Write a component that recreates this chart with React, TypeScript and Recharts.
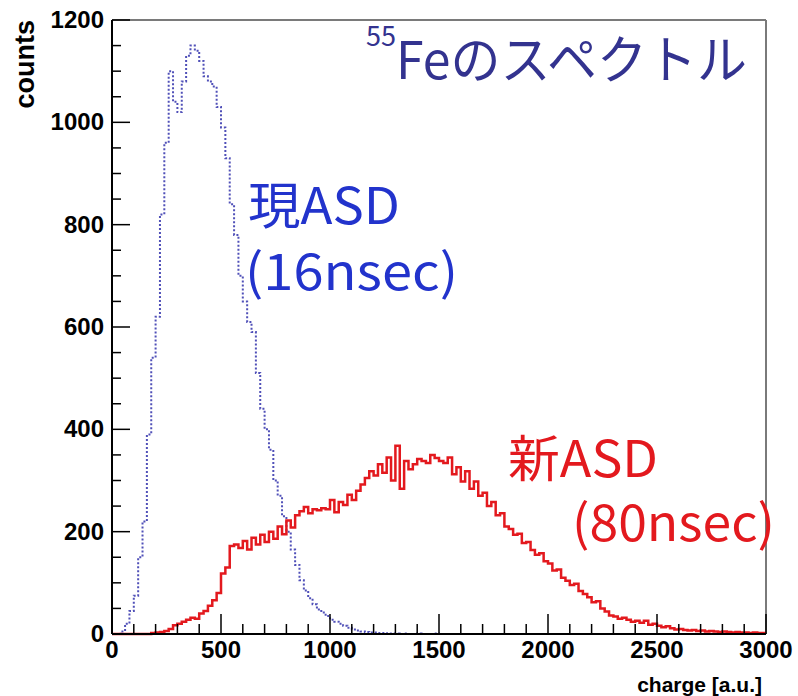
import React from 'react';
import { LineChart, Line, XAxis, YAxis, ReferenceLine } from 'recharts';

// histogram bins, 20 charge units wide, values listed by bin start
const BIN = 20;

// old ASD (16nsec), blue dotted
const blueCounts = [
  0, 0, 5, 20, 45, 75, 150, 220, 390, 540,
  620, 820, 960, 1100, 1040, 1020, 1080, 1130, 1150, 1140,
  1120, 1090, 1080, 1070, 1030, 990, 930, 840, 780, 700,
  650, 610, 590, 510, 440, 400, 360, 300, 270, 230,
  200, 165, 135, 105, 85, 70, 58, 48, 42, 35,
  28, 24, 20, 16, 12, 9, 7, 5, 4, 3,
  3, 2, 2, 1, 1, 1, 0, 1, 0, 0,
  1, 0, 0, 0, 1, 0, 0, 0, 0, 0,
  0, 0, 0, 0, 0, 0, 0, 0, 0, 0,
  0, 0, 0, 0, 0, 0, 0, 0, 0, 0,
  0, 0, 0, 0, 0, 0, 0, 0, 0, 0,
  0, 0, 0, 0, 0, 0, 0, 0, 0, 0,
  0, 0, 0, 0, 0, 0, 0, 0, 0, 0,
  0, 0, 0, 0, 0, 0, 0, 0, 0, 0,
  0, 0, 0, 0, 0, 0, 0, 0, 0, 0,
];

// new ASD (80nsec), red solid
const redCounts = [
  0, 0, 0, 0, 0, 0, 0, 0, 0, 2,
  3, 4, 6, 10, 17, 20, 24, 28, 32, 30,
  40, 45, 55, 66, 80, 118, 130, 172, 175, 168,
  182, 165, 188, 175, 194, 180, 200, 186, 210, 195,
  222, 208, 232, 240, 248, 236, 244, 242, 246, 244,
  262, 238, 258, 252, 272, 262, 280, 292, 305, 318,
  310, 332, 315, 345, 300, 368, 284, 338, 322, 332,
  342, 338, 334, 350, 344, 338, 334, 345, 312, 326,
  298, 318, 284, 298, 270, 276, 250, 258, 232, 236,
  210, 205, 194, 196, 178, 180, 164, 155, 158, 142,
  138, 124, 126, 110, 104, 96, 98, 84, 78, 72,
  62, 64, 50, 44, 36, 34, 30, 32, 28, 24,
  26, 22, 26, 18, 20, 16, 13, 15, 11, 9,
  10, 8, 7, 8, 6, 7, 5, 6, 5, 4,
  5, 4, 3, 4, 3, 3, 2, 3, 2, 2,
];

const xTicks = [
  0, 100, 200, 300, 400, 500, 600, 700, 800, 900, 1000,
  1100, 1200, 1300, 1400, 1500, 1600, 1700, 1800, 1900, 2000,
  2100, 2200, 2300, 2400, 2500, 2600, 2700, 2800, 2900, 3000,
];
const yTicks = [
  0, 50, 100, 150, 200, 250, 300, 350, 400, 450, 500, 550, 600,
  650, 700, 750, 800, 850, 900, 950, 1000, 1050, 1100, 1150, 1200,
];

const rows = blueCounts.map((b, i) => ({ charge: i * BIN, blue: b, red: redCounts[i] }));
// close the last bin at the right edge
rows.push({ charge: 3000, blue: blueCounts[blueCounts.length - 1], red: redCounts[redCounts.length - 1] });

const axisFont = '"Liberation Sans", Arial, sans-serif';
const jpFont = '"Noto Sans CJK JP", sans-serif';

function YTick(props: any) {
  const { x, y, payload } = props;
  const major = payload.value % 200 === 0;
  return (
    <g>
      <line x1={x} x2={x + (major ? 18 : 9)} y1={y} y2={y} stroke="#000" strokeWidth={1.5} />
      {major && (
        <text x={x - 8} y={y + 8} textAnchor="end" fontFamily={axisFont} fontWeight="bold" fontSize={24} fill="#000">
          {payload.value}
        </text>
      )}
    </g>
  );
}

function XTick(props: any) {
  const { x, y, payload } = props;
  const major = payload.value % 500 === 0;
  return (
    <g>
      <line x1={x} x2={x} y1={y} y2={y - (major ? 20 : 10)} stroke="#000" strokeWidth={1.5} />
      {major && (
        <text x={x} y={y + 24} textAnchor="middle" fontFamily={axisFont} fontWeight="bold" fontSize={24} fill="#000">
          {payload.value}
        </text>
      )}
    </g>
  );
}

export default function App() {
  return (
    <div style={{ position: 'absolute', left: 0, top: 0, width: 798, height: 696, background: '#fff' }}>
      <LineChart width={798} height={696} data={rows} margin={{ top: 20, right: 32, left: 0, bottom: 0 }}>
        <XAxis
          dataKey="charge"
          type="number"
          domain={[0, 3000]}
          ticks={xTicks}
          interval={0}
          tick={<XTick />}
          tickLine={false}
          tickSize={0}
          tickMargin={0}
          height={62}
          axisLine={{ stroke: '#000', strokeWidth: 2 }}
          label={{
            value: 'charge [a.u.]',
            position: 'insideBottomRight',
            offset: 4,
            fontFamily: axisFont,
            fontWeight: 'bold',
            fontSize: 21,
            fill: '#000',
          }}
        />
        <YAxis
          type="number"
          domain={[0, 1200]}
          ticks={yTicks}
          interval={0}
          tick={<YTick />}
          tickLine={false}
          tickSize={0}
          tickMargin={0}
          width={112}
          axisLine={{ stroke: '#000', strokeWidth: 2 }}
          label={{
            content: (p: any) => (
              <text
                transform={`translate(${p.viewBox.x + 34}, ${p.viewBox.y}) rotate(-90)`}
                textAnchor="end"
                fontFamily={axisFont}
                fontWeight="bold"
                fontSize={27}
                fill="#000"
              >
                counts
              </text>
            ),
          }}
        />
        <ReferenceLine y={1200} stroke="#7a7a7a" strokeWidth={2} />
        <ReferenceLine x={3000} stroke="#7a7a7a" strokeWidth={2} />
        <Line
          dataKey="blue"
          type="stepAfter"
          stroke="#5050b8"
          strokeWidth={2}
          strokeDasharray="2 2"
          dot={false}
          isAnimationActive={false}
        />
        <Line
          dataKey="red"
          type="stepAfter"
          stroke="#e3191e"
          strokeWidth={2.5}
          dot={false}
          isAnimationActive={false}
        />
      </LineChart>
      <svg width={798} height={696} style={{ position: 'absolute', left: 0, top: 0, pointerEvents: 'none' }}>
        <text x={366} y={46} fontFamily={jpFont} fontSize={28} fill="#33338f" textLength={30} lengthAdjust="spacingAndGlyphs">55</text>
        <text x={396} y={79} fontFamily={jpFont} fontSize={52} fill="#33338f" textLength={351} lengthAdjust="spacingAndGlyphs">
          Feのスペクトル
        </text>
        <text x={248} y={224} fontFamily={jpFont} fontSize={50} fill="#2233cc" textLength={152} lengthAdjust="spacingAndGlyphs">
          現ASD
        </text>
        <text x={245} y={290} fontFamily={jpFont} fontSize={50} fill="#2233cc" textLength={213} lengthAdjust="spacingAndGlyphs">
          (16nsec)
        </text>
        <text x={508} y={477} fontFamily={jpFont} fontSize={50} fill="#e3191e" textLength={150} lengthAdjust="spacingAndGlyphs">
          新ASD
        </text>
        <text x={572} y={541} fontFamily={jpFont} fontSize={50} fill="#e3191e" textLength={203} lengthAdjust="spacingAndGlyphs">
          (80nsec)
        </text>
      </svg>
    </div>
  );
}
